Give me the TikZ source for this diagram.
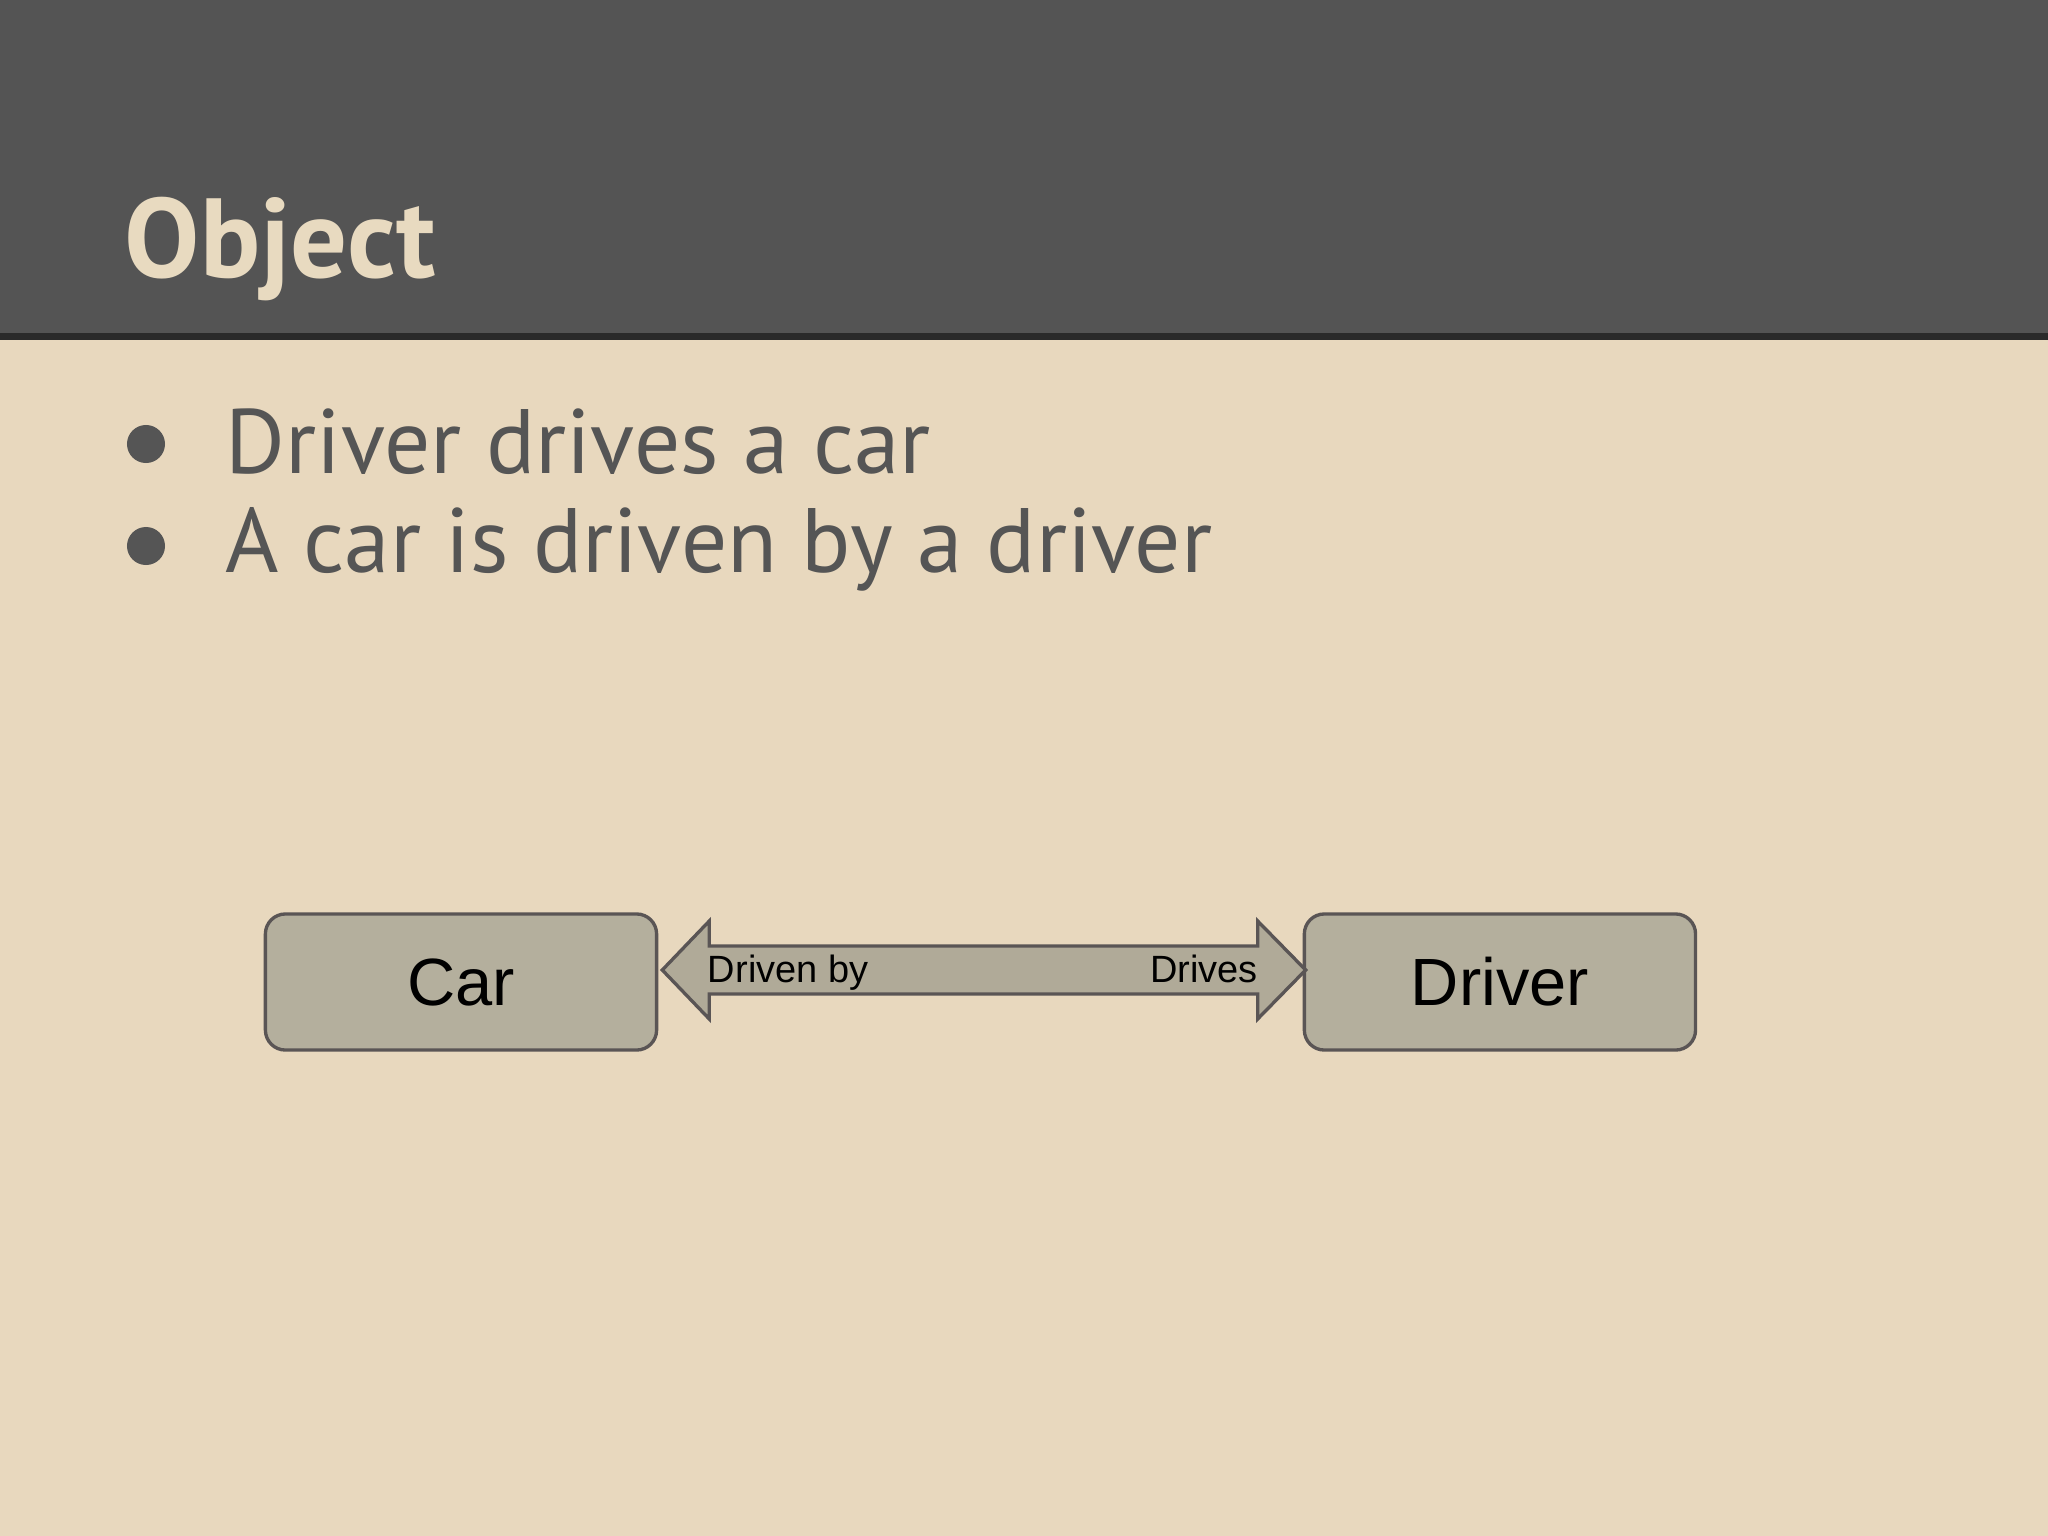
\documentclass[tikz,border=0pt]{standalone}
\usepackage{fontspec}
\setmainfont{PT Sans}
\newfontfamily\arialfont{Liberation Sans}
\usetikzlibrary{positioning,calc}

\begin{document}
\begin{tikzpicture}[x=0.01cm,y=-0.01cm]
\definecolor{pagecolor}{RGB}{232,216,190}
\definecolor{headcolor}{RGB}{84,84,84}
\definecolor{rulecolor}{RGB}{42,42,42}
\definecolor{titlecolor}{RGB}{232,218,192}
\definecolor{bodycolor}{RGB}{85,85,85}
\definecolor{boxcolor}{RGB}{180,175,157}
\definecolor{arrowcolor}{RGB}{176,170,152}
\definecolor{edgecolor}{RGB}{90,85,85}
\tikzset{
  entity/.style={draw=edgecolor,fill=boxcolor,line width=0.95pt,rounded corners=0.2cm,
    minimum width=3.91cm,minimum height=1.36cm,inner sep=0pt,font=\arialfont\fontsize{19}{22}\selectfont},
  link/.style={draw=edgecolor,fill=arrowcolor,line width=0.95pt,line join=miter},
  tag/.style={inner sep=0pt,font=\arialfont\fontsize{10.8}{13}\selectfont},
  bullettext/.style={inner sep=0pt,anchor=base west,text=bodycolor,font=\fontsize{26}{30}\selectfont},
  dot/.style={circle,fill=bodycolor,inner sep=0pt,minimum size=0.38cm}
}
\fill[pagecolor] (0,0) rectangle (2048,1536);
\fill[headcolor] (0,0) rectangle (2048,333);
\fill[rulecolor] (0,333) rectangle (2048,340);
\node[inner sep=0pt,anchor=base west,text=titlecolor,font=\bfseries\fontsize{32}{38}\selectfont] (title) at (124,277) {Object};
\node[dot] (dot1) at (146,444) {};
\node[bullettext] (line1) at (225,473) {Driver drives a car};
\node[dot] (dot2) at (146,546) {};
\node[bullettext] (line2) at (225,572) {A car is driven by a driver};
\node[entity] (car) at (461,982) {Car};
\node[entity,right=6.44cm of car] (driver) {Driver};
\coordinate (lefttip) at ($(car.east)+(4,-12)$);
\coordinate (righttip) at ($(driver.west)+(3,-12)$);
\draw[link] (lefttip) -- ++(47,-49) -- ++(0,25) -- ($(righttip)+(-48,-24)$) -- ++(0,-25) -- (righttip)
  -- ++(-48,49) -- ++(0,-25) -- ($(lefttip)+(47,24)$) -- ++(0,25) -- cycle;
\node[tag,anchor=base west] (drivenby) at ($(lefttip)+(45,12)$) {Driven by};
\node[tag,anchor=base east] (drives) at ($(righttip)+(-47,12)$) {Drives};
\end{tikzpicture}
\end{document}
